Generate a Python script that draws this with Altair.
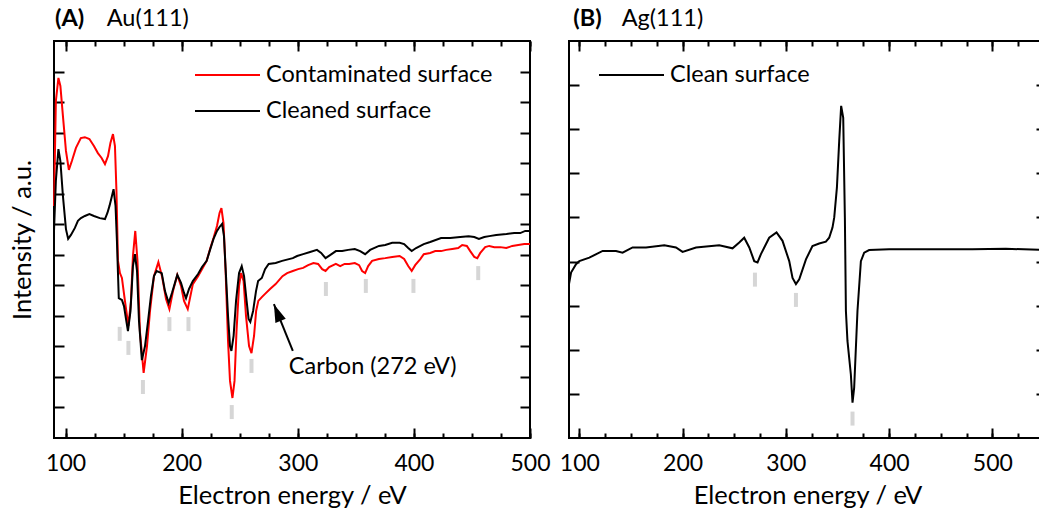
import altair as alt
import pandas as pd

FONT = "Lato"
FS_TEXT = 23.5    # legend, annotation, panel headers
FS_TICK = 23      # tick labels
FS_TITLE = 25.5   # axis titles

# ---- Au(111) spectra (energy in eV, intensity in arbitrary units) ----
AU_CONTAM_E = [90, 91.6, 93.8, 95.5, 97.7, 100.3, 102.8, 105.4, 108.9, 113.1, 116.6, 120.5,
               124.4, 127.8, 131, 133.9, 136.5, 138.6, 140.8, 142.5, 143.8, 145.1, 146.8, 148.5,
               151.1, 154.1, 156.3, 158, 160, 161.9, 164, 167.2, 170.1, 172.7, 176.1, 179.9,
               183, 186.5, 189.4, 192.5, 196.2, 199.4, 202, 205.2, 209.6, 214.1, 221.5, 224.4,
               227.4, 230.4, 232.6, 234.2, 236, 237.8, 239.9, 241.6, 243.7, 245.5, 247.2, 249.4,
               251.1, 253.3, 255.4, 258, 260.1, 262.3, 264.1, 266, 269.2, 271.8, 276.1, 280.9,
               286.8, 290.8, 295.7, 300.3, 304.6, 308.9, 313.5, 317.5, 321, 323.9, 327, 332.8,
               336.5, 340.3, 344.2, 349.1, 352.8, 355.4, 358, 360.6, 364, 369.9, 375.3, 381.3,
               387.7, 391.6, 395.1, 398.1, 401.1, 405.5, 408.5, 414, 418.4, 423.4, 427.8, 433,
               438.2, 441.6, 445.6, 448.5, 452, 454.6, 457.2, 461.4, 464.9, 469.2, 474.4, 479.6,
               484.7, 489.9, 495.1, 500]
AU_CONTAM_I = [7.6, 11.03, 11.79, 11.53, 10.54, 9.40, 8.78, 9.07, 9.50, 9.82, 9.85, 9.79,
               9.56, 9.33, 9.17, 8.97, 9.23, 9.66, 9.95, 9.56, 8.09, 5.80, 5.40, 5.24,
               4.49, 3.67, 4.49, 5.96, 6.78, 5.80, 3.50, 2.13, 3.01, 4.16, 5.30, 5.76,
               5.30, 4.55, 4.22, 4.81, 5.34, 4.98, 4.49, 4.22, 5.04, 5.30, 5.80, 6.19,
               6.55, 6.94, 7.37, 7.53, 7.04, 5.47, 3.18, 1.87, 1.31, 1.87, 3.50, 4.98,
               5.40, 5.14, 3.99, 3.01, 2.78, 3.34, 4.16, 4.49, 4.62, 4.72, 4.88, 5.04,
               5.30, 5.40, 5.47, 5.53, 5.57, 5.66, 5.73, 5.70, 5.53, 5.47, 5.60, 5.70,
               5.63, 5.70, 5.70, 5.73, 5.66, 5.47, 5.40, 5.63, 5.80, 5.86, 5.89, 5.93,
               5.96, 5.86, 5.63, 5.47, 5.66, 5.86, 6.02, 6.06, 6.12, 6.12, 6.16, 6.19,
               6.22, 6.32, 6.29, 6.12, 5.93, 5.89, 6.06, 6.25, 6.29, 6.25, 6.25, 6.22,
               6.29, 6.32, 6.35, 6.35]

AU_CLEAN_E = [90, 91.6, 93.8, 95.5, 97.7, 100.3, 102.2, 104.6, 108, 110.6, 113.2, 116.6,
              120.5, 124.4, 129.5, 133.9, 136, 137.8, 139.5, 141.3, 143, 144.2, 145.8, 147.2,
              148.5, 150.3, 152, 153.7, 155.9, 158, 159.7, 161.5, 163.2, 165.7, 168.4, 171,
              173.5, 176.1, 178.4, 182.8, 185.6, 188.8, 191.6, 196.2, 199.4, 202, 203.7, 206.3,
              209.6, 214.1, 217.5, 221.5, 224.4, 227.4, 230.4, 232.6, 234.8, 236.4, 237.8, 239.9,
              241.6, 242.8, 244.7, 246.8, 249.4, 251.7, 253.7, 255.9, 257.6, 259.1, 261.5, 264,
              265.8, 269, 271.8, 274.9, 280.9, 286.5, 295.7, 299.4, 304.6, 310.6, 316.5, 320.1,
              323.9, 327.8, 332.8, 338.2, 343.4, 349.1, 353.7, 358, 362.3, 369.9, 375.3, 381.3,
              387.7, 391.6, 395.1, 398.1, 401.9, 408.5, 414, 423.4, 431.3, 439.9, 447.1, 452,
              456, 460.6, 464.9, 470.9, 479.7, 486.4, 491.6, 495.9, 500]
AU_CLEAN_I = [6.78, 8.42, 9.46, 9.07, 7.92, 6.84, 6.52, 6.65, 6.88, 7.11, 7.20, 7.27,
              7.33, 7.27, 7.20, 7.17, 7.37, 7.60, 7.86, 8.15, 7.60, 6.45, 4.58, 4.55,
              4.52, 4.32, 3.90, 3.50, 4.16, 5.63, 6.02, 5.47, 3.83, 2.55, 3.01, 3.83,
              4.65, 5.30, 5.47, 5.40, 4.81, 4.42, 4.75, 5.34, 5.08, 4.75, 4.58, 4.88,
              5.14, 5.37, 5.60, 5.80, 6.16, 6.52, 6.78, 6.91, 7.01, 6.61, 5.57, 3.99,
              3.01, 2.85, 3.34, 4.49, 5.40, 5.63, 5.30, 4.49, 3.90, 3.80, 4.16, 4.81,
              5.14, 5.24, 5.53, 5.70, 5.73, 5.80, 5.89, 5.96, 6.02, 6.09, 6.16, 6.06,
              5.89, 5.99, 6.12, 6.12, 6.16, 6.19, 6.12, 6.02, 6.16, 6.29, 6.32, 6.39,
              6.39, 6.35, 6.22, 6.12, 6.22, 6.35, 6.42, 6.55, 6.55, 6.58, 6.61, 6.58,
              6.52, 6.58, 6.61, 6.65, 6.68, 6.71, 6.71, 6.78, 6.78]

# Au Auger transitions (grey markers)
AU_MARK_E = [146.6, 154.1, 166.6, 189.4, 205.8, 243.1, 260.1, 324.2, 358.6, 399.6, 455.4]
AU_MARK_I = [3.41, 2.95, 1.67, 3.73, 3.73, 0.85, 2.36, 4.88, 4.98, 4.98, 5.40]

# Carbon KLL annotation: label anchor, arrow tail and arrow tip
NOTE_TEXT = ["Carbon (272 eV)"]
NOTE_E, NOTE_I = [292.2], [2.32]
ARROW_E, ARROW_I = [295.7], [2.85]
ARROW_E2, ARROW_I2 = [279.4], [4.38]

# ---- Ag(111) spectrum ----
AG_E = [90, 92, 96.8, 100, 109.7, 122.6, 135.5, 141.9, 151.6, 164.6, 182.3, 193.6,
        200, 213, 235.5, 248.4, 254.9, 259.7, 264.6, 269.4, 272.6, 275.9, 283.9, 291,
        296.8, 303.3, 306.5, 309.8, 313, 319.5, 325.8, 332.3, 338.8, 342, 345.2, 346.9,
        349.5, 351.7, 353.6, 355.6, 357.2, 358.2, 359.7, 363, 364.6, 366.2, 369.4, 372.7,
        375.9, 380.7, 400.1, 448.5, 480.7, 513.1, 552]
AG_I = [3.49, 3.75, 3.94, 4.01, 4.09, 4.24, 4.24, 4.20, 4.32, 4.32, 4.37, 4.32,
        4.22, 4.32, 4.37, 4.30, 4.43, 4.54, 4.32, 4.01, 3.98, 4.17, 4.54, 4.66,
        4.47, 4.01, 3.63, 3.49, 3.60, 4.05, 4.35, 4.41, 4.45, 4.54, 4.77, 5.00,
        5.68, 6.73, 7.53, 7.26, 5.00, 2.88, 2.20, 1.44, 0.80, 1.14, 2.88, 4.01,
        4.20, 4.26, 4.28, 4.28, 4.28, 4.29, 4.26]
AG_MARK_E = [270.1, 309.8, 364.6]
AG_MARK_I = [3.59, 3.13, 0.44]

# ---- axes / labels ----
SERIES_AU = ["Contaminated surface", "Cleaned surface"]
SERIES_AG = ["Clean surface"]
PANEL_TAG = ["(A)", "(B)"]
PANEL_NAME = ["Au(111)", "Ag(111)"]
X_TITLE = "Electron energy / eV"
Y_TITLE = "Intensity / a.u."
X_LABELS = [100, 200, 300, 400, 500]

AU_XDOM, AU_YDOM = [90, 500], [0, 13]
AG_XDOM, AG_YDOM = [90, 552], [0, 9]
AU_W, AG_W, H = 476, 477, 397

MARK_GREY = "#c4c4c4"
ARROW_HEAD = "M0,0L0.5,1.6L-0.5,1.6Z"


def frame_ticks(df, xs, ys, xmajor, xminor, yticks, w, h):
    """Invisible layers that carry the inward-pointing ticks on all four sides."""
    def ax(orient, values, size, offset):
        return alt.Axis(orient=orient, values=values, tickSize=size, offset=offset,
                        labels=False, domain=False, grid=False, title=None,
                        tickWidth=2, tickColor="black")
    specs = [
        (ax("top", xmajor, 10, -h), ax("right", yticks, 10, -w)),
        (ax("top", xminor, 5, -h), ax("left", yticks, 10, -w)),
        (ax("bottom", xmajor, 10, -h), None),
        (ax("bottom", xminor, 5, -h), None),
    ]
    return [
        alt.Chart(df).mark_point(opacity=0).encode(
            x=alt.X("E:Q", scale=xs, axis=xa),
            y=alt.Y("I:Q", scale=ys, axis=ya),
        )
        for xa, ya in specs
    ]


def header(tag, name, tag_x):
    t1 = alt.Chart(pd.DataFrame({"t": [tag]})).mark_text(
        align="left", baseline="alphabetic", font=FONT, fontSize=FS_TEXT, fontWeight="bold",
        color="black").encode(text="t:N", x=alt.value(tag_x), y=alt.value(-15))
    t2 = alt.Chart(pd.DataFrame({"t": [name]})).mark_text(
        align="left", baseline="alphabetic", font=FONT, fontSize=FS_TEXT,
        color="black").encode(text="t:N", x=alt.value(52.7), y=alt.value(-15))
    return [t1, t2]


def main_x_axis():
    return alt.Axis(orient="bottom", values=X_LABELS, title=X_TITLE, ticks=False,
                    domain=False, grid=False, labelPadding=14, titlePadding=8,
                    format="d", labelFlush=False, labelFont=FONT, labelFontSize=FS_TICK,
                    labelColor="black", titleFont=FONT, titleFontSize=FS_TITLE,
                    titleFontWeight="normal", titleColor="black")


def legend(x, y):
    return alt.Legend(title=None, orient="none", legendX=x, legendY=y,
                      symbolType="stroke", symbolSize=4225, symbolStrokeWidth=2,
                      labelFont=FONT, labelFontSize=FS_TEXT, labelColor="black",
                      labelLimit=600, labelOffset=5, clipHeight=30, rowPadding=6,
                      padding=0)


# ---------------- panel A ----------------
au_contam = pd.DataFrame({"E": AU_CONTAM_E, "I": AU_CONTAM_I, "s": SERIES_AU[0]})
au_clean = pd.DataFrame({"E": AU_CLEAN_E, "I": AU_CLEAN_I, "s": SERIES_AU[1]})
au_marks = pd.DataFrame({"E": AU_MARK_E, "I": AU_MARK_I})
note = pd.DataFrame({"E": NOTE_E, "I": NOTE_I, "t": NOTE_TEXT})
arrow = pd.DataFrame({"E": ARROW_E, "I": ARROW_I, "E2": ARROW_E2, "I2": ARROW_I2})

xs_a = alt.Scale(domain=AU_XDOM, nice=False, zero=False)
ys_a = alt.Scale(domain=AU_YDOM, nice=False, zero=False)
col_a = alt.Scale(domain=SERIES_AU, range=["#ff0000", "#000000"])

y_title_axis = alt.Axis(orient="left", title=Y_TITLE, labels=False, ticks=False,
                        domain=False, grid=False, titlePadding=19, titleFont=FONT,
                        titleFontSize=FS_TITLE, titleFontWeight="normal", titleColor="black")

au_lines = [
    alt.Chart(d).mark_line(strokeWidth=2).encode(
        x=alt.X("E:Q", scale=xs_a, axis=main_x_axis() if i == 0 else None),
        y=alt.Y("I:Q", scale=ys_a, axis=y_title_axis if i == 0 else None),
        color=alt.Color("s:N", scale=col_a, legend=legend(140, 19) if i == 0 else None),
    )
    for i, d in enumerate([au_contam, au_clean])
]

au_tick_marks = alt.Chart(au_marks).mark_tick(
    orient="vertical", size=14, thickness=4, color=MARK_GREY).encode(
    x=alt.X("E:Q", scale=xs_a, axis=None), y=alt.Y("I:Q", scale=ys_a, axis=None))

note_text = alt.Chart(note).mark_text(
    align="left", baseline="middle", font=FONT, fontSize=FS_TEXT, color="black").encode(
    x=alt.X("E:Q", scale=xs_a, axis=None), y=alt.Y("I:Q", scale=ys_a, axis=None), text="t:N")
arrow_line = alt.Chart(arrow).mark_rule(strokeWidth=2, color="black").encode(
    x=alt.X("E:Q", scale=xs_a, axis=None), y=alt.Y("I:Q", scale=ys_a, axis=None),
    x2="E2:Q", y2="I2:Q")
arrow_tip = alt.Chart(arrow).mark_point(
    shape=ARROW_HEAD, size=500, filled=True, color="black", opacity=1, angle=338,
    strokeWidth=0).encode(
    x=alt.X("E2:Q", scale=xs_a, axis=None), y=alt.Y("I2:Q", scale=ys_a, axis=None))

panel_a = alt.layer(
    au_tick_marks, *au_lines, arrow_line, arrow_tip, note_text,
    *frame_ticks(au_clean, xs_a, ys_a, X_LABELS, list(range(100, 501, 25)),
                 list(range(1, 13)), AU_W, H),
    *header(PANEL_TAG[0], PANEL_NAME[0], 1),
).resolve_axis(x="independent", y="independent").properties(width=AU_W, height=H)

# ---------------- panel B ----------------
ag = pd.DataFrame({"E": AG_E, "I": AG_I, "s": SERIES_AG[0]})
ag_marks = pd.DataFrame({"E": AG_MARK_E, "I": AG_MARK_I})
xs_b = alt.Scale(domain=AG_XDOM, nice=False, zero=False)
ys_b = alt.Scale(domain=AG_YDOM, nice=False, zero=False)

ag_line = alt.Chart(ag).mark_line(strokeWidth=2).encode(
    x=alt.X("E:Q", scale=xs_b, axis=main_x_axis()),
    y=alt.Y("I:Q", scale=ys_b, axis=None),
    color=alt.Color("s:N", scale=alt.Scale(domain=SERIES_AG, range=["#000000"]),
                    legend=legend(29, 19)),
)
ag_tick_marks = alt.Chart(ag_marks).mark_tick(
    orient="vertical", size=14, thickness=4, color=MARK_GREY).encode(
    x=alt.X("E:Q", scale=xs_b, axis=None), y=alt.Y("I:Q", scale=ys_b, axis=None))

panel_b = alt.layer(
    ag_tick_marks, ag_line,
    *frame_ticks(ag, xs_b, ys_b, X_LABELS, list(range(100, 551, 25)),
                 list(range(1, 9)), AG_W, H),
    *header(PANEL_TAG[1], PANEL_NAME[1], 4.3),
).resolve_axis(x="independent", y="independent").properties(width=AG_W, height=H)

# the Ag panel runs past the right edge of the figure; a negative right padding
# trims the drawing there instead of letting the page grow wider
chart = alt.hconcat(panel_a, panel_b, spacing=39, bounds="flush").resolve_scale(
    color="independent").properties(
    padding={"left": 9, "top": 6, "right": -12, "bottom": 0}, background="white"
).configure_view(stroke="black", strokeWidth=2).configure_axis(
    labelFont=FONT, titleFont=FONT, labelColor="black", titleColor="black", grid=False
)

chart.save("out.html", embed_options={"renderer": "svg", "actions": False})
